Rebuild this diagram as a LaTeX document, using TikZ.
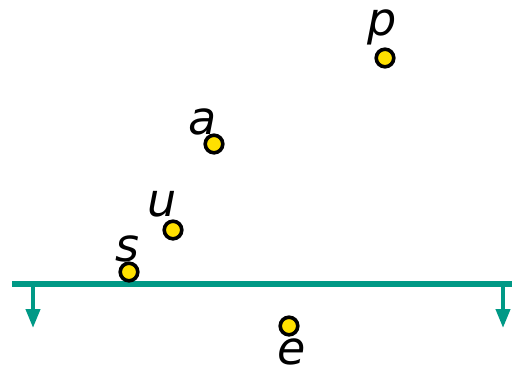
\documentclass[tikz,border=0pt]{standalone}
\usepackage{fontspec}
\setmainfont{DejaVu Sans}
\usepackage{tikz}
\usetikzlibrary{arrows.meta,positioning}
\definecolor{teal}{RGB}{0,153,134}
\definecolor{dotyellow}{RGB}{255,224,0}

\begin{document}
\begin{tikzpicture}[
  x=0.5pt, y=-0.5pt,
  pt/.style={circle, draw=black, line width=1.8pt, fill=dotyellow, minimum size=8.8pt, inner sep=0pt},
  lbl/.style={anchor=base, inner sep=0pt, font=\fontsize{23}{27}\selectfont\itshape},
  rail/.style={draw=teal, line width=2.8pt},
  drop/.style={draw=teal, line width=2pt, -{Triangle[length=9.5pt,width=7pt]}}
]
\useasboundingbox (0,0) rectangle (512,372);

% the line and its two arrows
\coordinate (left) at (12,284);
\coordinate (right) at (512,284);
\coordinate (l1) at (33,284);
\coordinate (l2) at (33,328);
\coordinate (r1) at (503,284);
\coordinate (r2) at (503,328);
\draw[drop] (l1) -- (l2);
\draw[drop] (r1) -- (r2);
\draw[rail] (left) -- (right);

% points
\node[pt] (p) at (385,58) {};
\node[pt] (a) at (214,144) {};
\node[pt] (u) at (173,230) {};
\node[pt] (s) at (129,272) {};
\node[pt] (e) at (289,326) {};

% labels
\node[lbl] (plbl) at (382,35) {p};
\node[lbl] (albl) at (203,134) {a};
\node[lbl] (ulbl) at (162,216) {u};
\node[lbl] (slbl) at (127,261) {s};
\node[lbl] (elbl) at (292,364) {e};
\end{tikzpicture}
\end{document}
